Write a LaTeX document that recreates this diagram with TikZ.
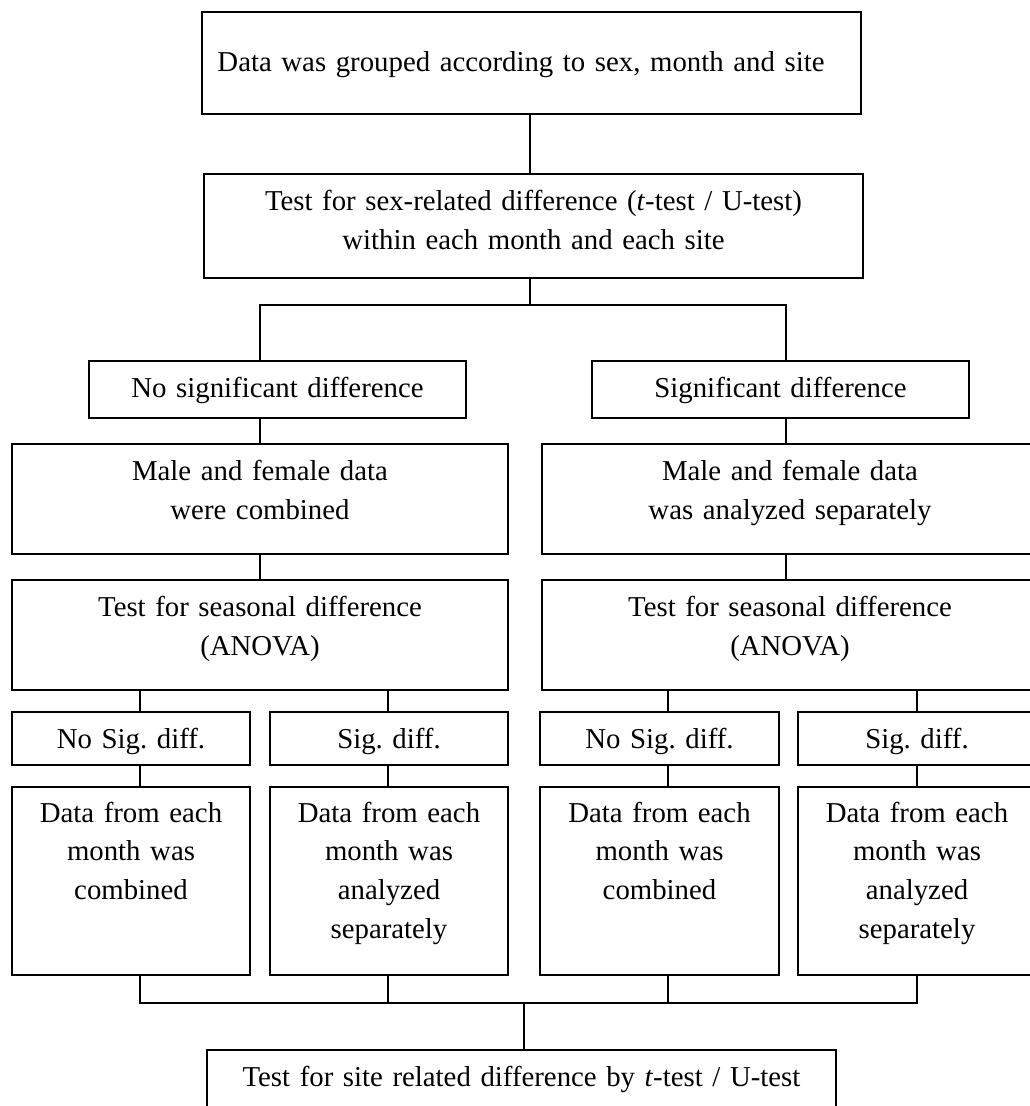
\documentclass[tikz,border=0pt]{standalone}
\usepackage{fontspec}
\setmainfont{Liberation Serif}
\frenchspacing
\tikzset{
  box/.style n args={3}{draw, line width=1.4pt, inner sep=0pt, align=center,
    text width=#1, text height=#2, text depth=#3,
    font=\fontsize{21.6pt}{29pt}\selectfont\frenchspacing},
  conn/.style={line width=1pt},
}
\begin{document}
\begin{tikzpicture}[x=0.75pt, y=-0.75pt]
\useasboundingbox (0,0) rectangle (1030,1106);
\clip (0,0) rectangle (1030,1106);
% boxes
\node[box={494.25pt}{44.25pt}{32.25pt}] (top) at (531.5,63) {\hspace*{-15.75pt}Data was grouped according to sex, month and site};
\node[box={494.25pt}{27.375pt}{50.625pt}] (sex) at (533.5,226) {Test for sex-related difference (\textit{t}-test / U-test)\\within each month and each site};
\node[box={282.75pt}{27.375pt}{15.375pt}] (nsd) at (277.5,389.5) {No significant difference};
\node[box={282.75pt}{27.375pt}{15.375pt}] (sd) at (780.5,389.5) {Significant difference};
\node[box={372pt}{27.375pt}{55.125pt}] (maleL) at (260,499) {Male and female data\\were combined};
\node[box={372pt}{27.375pt}{55.125pt}] (maleR) at (790,499) {Male and female data\\was analyzed separately};
\node[box={372pt}{27.375pt}{55.125pt}] (anovaL) at (260,635) {Test for seasonal difference\\(ANOVA)};
\node[box={372pt}{27.375pt}{55.125pt}] (anovaR) at (790,635) {Test for seasonal difference\\(ANOVA)};
\node[box={178.5pt}{27.375pt}{12.375pt}] (s1) at (131,738.5) {No Sig. diff.};
\node[box={178.5pt}{27.375pt}{12.375pt}] (s2) at (389,738.5) {Sig. diff.};
\node[box={179.25pt}{27.375pt}{12.375pt}] (s3) at (659.5,738.5) {No Sig. diff.};
\node[box={178.5pt}{27.375pt}{12.375pt}] (s4) at (917,738.5) {Sig. diff.};
\node[box={178.5pt}{26.25pt}{114.75pt}] (b1) at (131,881) {Data from each\\month was\\combined};
\node[box={178.5pt}{26.25pt}{114.75pt}] (b2) at (389,881) {Data from each\\month was\\analyzed\\separately};
\node[box={179.25pt}{26.25pt}{114.75pt}] (b3) at (659.5,881) {Data from each\\month was\\combined};
\node[box={178.5pt}{26.25pt}{114.75pt}] (b4) at (917,881) {Data from each\\month was\\analyzed\\separately};
\node[box={471.75pt}{27.375pt}{16.125pt}] (bot) at (521.5,1079) {Test for site related difference by \textit{t}-test / U-test};
% column coordinates
\coordinate (xA) at (530,0);
\coordinate (xL) at (260,0);
\coordinate (xR) at (786,0);
\coordinate (c1) at (140,0);
\coordinate (c2) at (388,0);
\coordinate (c3) at (668,0);
\coordinate (c4) at (917,0);
\coordinate (j1) at (530,305);
\coordinate (j2) at (524,1003);
% connectors
\draw[conn] (top.south -| xA) -- (sex.north -| xA);
\draw[conn] (sex.south -| xA) -- (j1);
\draw[conn] (nsd.north -| xL) |- (j1) -| (sd.north -| xR);
\draw[conn] (nsd.south -| xL) -- (maleL.north -| xL);
\draw[conn] (sd.south -| xR) -- (maleR.north -| xR);
\draw[conn] (maleL.south -| xL) -- (anovaL.north -| xL);
\draw[conn] (maleR.south -| xR) -- (anovaR.north -| xR);
\draw[conn] (anovaL.south -| c1) -- (s1.north -| c1);
\draw[conn] (anovaL.south -| c2) -- (s2.north -| c2);
\draw[conn] (anovaR.south -| c3) -- (s3.north -| c3);
\draw[conn] (anovaR.south -| c4) -- (s4.north -| c4);
\draw[conn] (s1.south -| c1) -- (b1.north -| c1);
\draw[conn] (s2.south -| c2) -- (b2.north -| c2);
\draw[conn] (s3.south -| c3) -- (b3.north -| c3);
\draw[conn] (s4.south -| c4) -- (b4.north -| c4);
\draw[conn] (b1.south -| c1) -- (c1 |- j2) -- (c4 |- j2) -- (b4.south -| c4);
\draw[conn] (b2.south -| c2) -- (c2 |- j2);
\draw[conn] (b3.south -| c3) -- (c3 |- j2);
\draw[conn] (j2) -- (bot.north -| j2);
\end{tikzpicture}
\end{document}
